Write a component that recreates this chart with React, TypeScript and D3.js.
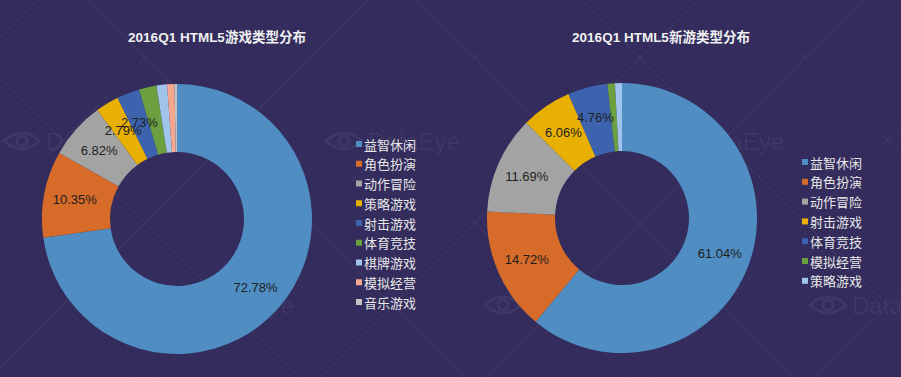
import React from "react";
import * as d3 from "d3";

const W = 901;
const H = 377;

const leftTitle = "2016Q1 HTML5游戏类型分布";
const leftCategories = ["益智休闲", "角色扮演", "动作冒险", "策略游戏", "射击游戏", "体育竞技", "棋牌游戏", "模拟经营", "音乐游戏"];
const leftValues = [72.78, 10.35, 6.82, 2.79, 2.73, 2.1, 1.25, 0.88, 0.3];

const rightTitle = "2016Q1 HTML5新游类型分布";
const rightCategories = ["益智休闲", "角色扮演", "动作冒险", "射击游戏", "体育竞技", "模拟经营", "策略游戏"];
const rightValues = [61.04, 14.72, 11.69, 6.06, 4.76, 0.9, 0.83];

const palette = ["#4f8dc2", "#d66b2a", "#a3a3a3", "#e9b004", "#3d63ae", "#6c9f3f", "#a0c4ec", "#f4a68e", "#c4c4c4"];

const BG = "#332c5c";

type DonutProps = {
  title: string;
  categories: string[];
  values: number[];
  cx: number;
  cy: number;
  titleX: number;
  legendX: number;
  legendY: number;
  legendStep: number;
};

function Donut({ title, categories, values, cx, cy, titleX, legendX, legendY, legendStep }: DonutProps) {
  const outer = 135;
  const inner = 67;
  const data = categories.map((c, i) => ({ name: c, value: values[i], i }));
  const pie = d3.pie<any>().value((d: any) => d.value).sort(null);
  const arcs = pie(data);
  const arc = d3.arc<any>().innerRadius(inner).outerRadius(outer);
  const labelArc = d3.arc<any>().innerRadius(104).outerRadius(104);
  const color = d3.scaleOrdinal<number, string>().domain(d3.range(palette.length)).range(palette);
  const legendScale = d3.scaleLinear().domain([0, 1]).range([legendY, legendY + legendStep]);
  return (
    <g>
      <text x={titleX} y={42} textAnchor="middle" fill="#f0f0f0" fontWeight="bold" fontSize={13.5}
        fontFamily="'Liberation Sans', Arial, 'Noto Sans CJK SC', sans-serif">{title}</text>
      <g transform={`translate(${cx},${cy})`}>
        {arcs.map((a, k) => (
          <path key={k} d={arc(a) || ""} fill={color(a.data.i)} />
        ))}
        {arcs.filter((a) => a.data.value >= 2.5).map((a, k) => {
          const [x, y] = labelArc.centroid(a);
          return (
            <text key={k} x={x} y={y} textAnchor="middle" dominantBaseline="central" fill="#1e1e1e"
              fontSize={13} fontFamily="'Liberation Sans', Arial, sans-serif">
              {a.data.value.toFixed(2) + "%"}
            </text>
          );
        })}
      </g>
      <g>
        {data.map((d, k) => (
          <g key={k} transform={`translate(${legendX},${legendScale(k)})`}>
            <rect x={0} y={-3} width={6} height={6} fill={color(d.i)} />
            <text x={8} y={0} dominantBaseline="central" fill="#e8e8e8" fontSize={13}
              fontFamily="'Noto Sans CJK SC', sans-serif">{d.name}</text>
          </g>
        ))}
      </g>
    </g>
  );
}

function Watermark({ x, y }: { x: number; y: number }) {
  const col = "rgba(255,255,255,0.06)";
  return (
    <g transform={`translate(${x},${y})`}>
      <path d="M0,0 Q18,-16 36,0 Q18,16 0,0 Z" fill="none" stroke={col} strokeWidth={3} />
      <circle cx={18} cy={0} r={5} fill="none" stroke={col} strokeWidth={3} />
      <text x={42} y={0} dominantBaseline="central" fill={col} fontSize={24}
        fontFamily="'Liberation Sans', Arial, sans-serif">DataEye</text>
    </g>
  );
}

export default function App() {
  const spacing = 165;
  const lines: { x1: number; y1: number; x2: number; y2: number }[] = [];
  for (let c = 87 - spacing * 4; c < W + H + spacing; c += spacing) {
    // x - y = c
    lines.push({ x1: c, y1: 0, x2: c + H, y2: H });
  }
  for (let c = 203 - spacing * 2; c < W + H + spacing * 2; c += spacing) {
    // x + y = c
    lines.push({ x1: c, y1: 0, x2: c - H, y2: H });
  }
  return (
    <div style={{ position: "fixed", left: 0, top: 0, width: W, height: H }}>
      <svg width={W} height={H} style={{ display: "block" }}>
        <rect width={W} height={H} fill={BG} />
        {lines.map((l, k) => (
          <line key={k} x1={l.x1} y1={l.y1} x2={l.x2} y2={l.y2} stroke="rgba(255,255,255,0.07)" strokeWidth={1} />
        ))}
        <Watermark x={4} y={141} />
        <Watermark x={326} y={141} />
        <Watermark x={650} y={141} />
        <Watermark x={160} y={305} />
        <Watermark x={485} y={305} />
        <Watermark x={810} y={305} />
        <Donut title={leftTitle} categories={leftCategories} values={leftValues} cx={177} cy={219}
          titleX={217} legendX={356} legendY={144} legendStep={19.75} />
        <Donut title={rightTitle} categories={rightCategories} values={rightValues} cx={622} cy={218}
          titleX={661} legendX={802} legendY={162} legendStep={19.8} />
      </svg>
    </div>
  );
}
